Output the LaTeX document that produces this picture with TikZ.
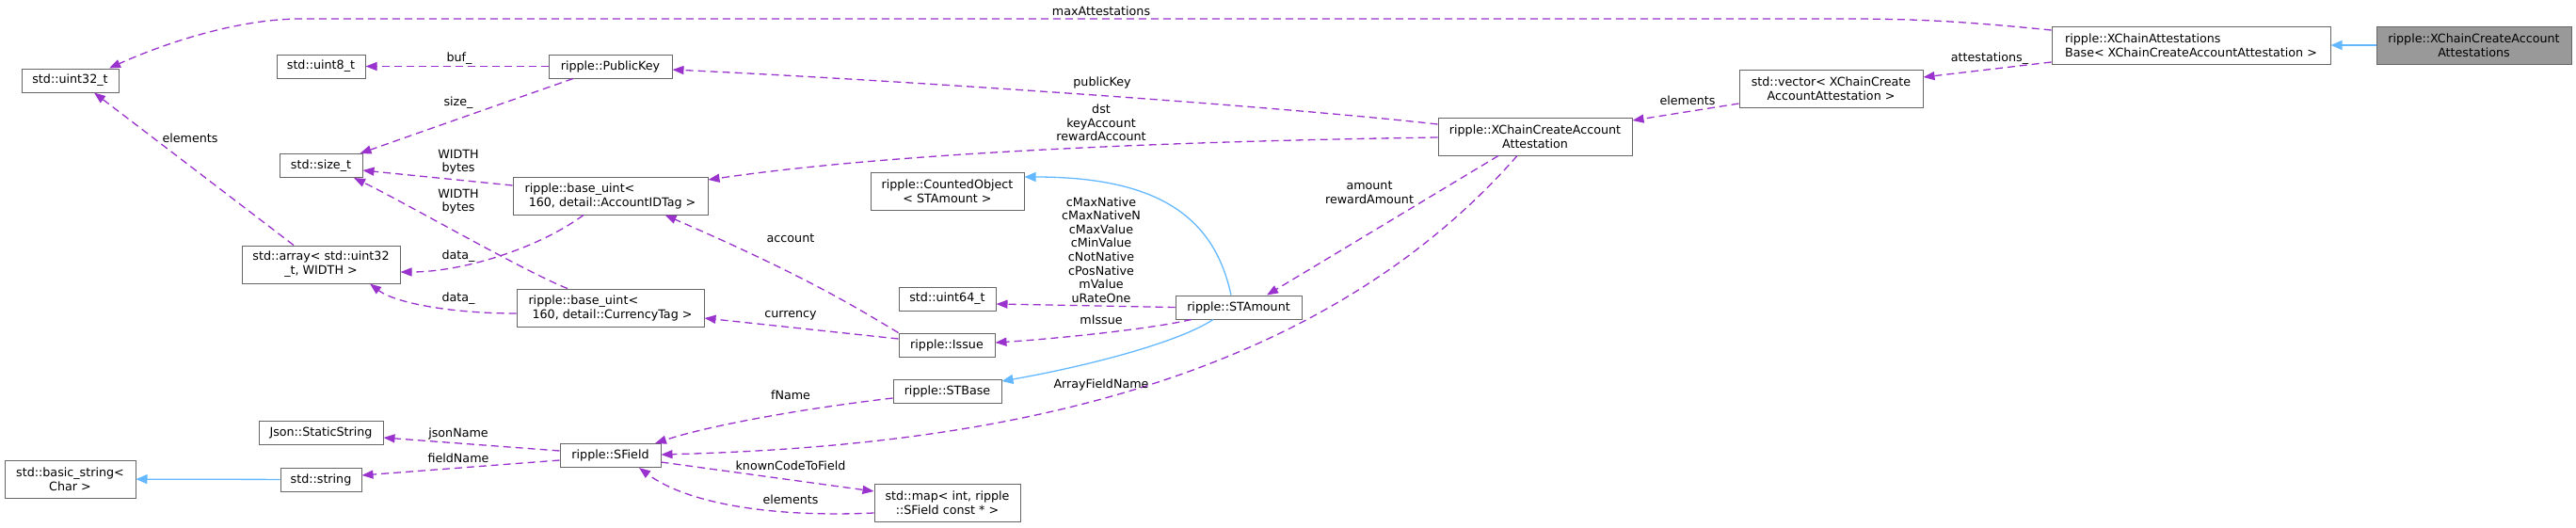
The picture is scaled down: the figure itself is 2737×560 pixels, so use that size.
\documentclass[tikz,border=0pt]{standalone}
\usepackage{fontspec}
\setmainfont{DejaVu Sans}
\usetikzlibrary{arrows.meta}
\definecolor{edgeuse}{HTML}{9A32CD}
\definecolor{edgeinh}{HTML}{63B8FF}
\definecolor{boxline}{HTML}{666666}
\definecolor{boxsel}{HTML}{999999}
\tikzset{
  cls/.style={draw=boxline, fill=white, line width=1pt, inner sep=2pt, minimum width=#1, minimum height=25pt, font=\fontsize{12.7}{15}\selectfont, align=center},
  cls2/.style={cls=#1, minimum height=40pt},
  clsl/.style={cls2=#1, align=left},
  clssel/.style={cls2=#1, fill=boxsel},
  member/.style={draw=edgeuse, line width=1.3pt, dash pattern=on 8pt off 5pt, -{Triangle[length=12pt,width=9pt]}},
  inherits/.style={draw=edgeinh, line width=1.3pt, -{Triangle[length=12pt,width=10pt]}},
  lbl/.style={inner sep=0pt, font=\fontsize{12.7}{14.6}\selectfont, align=center},
}

\begin{document}
\begin{tikzpicture}[x=1pt, y=-1pt]
  \useasboundingbox (0,0) rectangle (2737,560);

  % classes, by column
  \node[cls=103pt] (uint32) at (74.5,85.5) {std::uint32\_t};
  \node[cls2=139pt] (basicstr) at (74.5,509) {std::basic\_string<\\Char >};

  \node[cls=94pt] (uint8) at (341,70.5) {std::uint8\_t};
  \node[cls=88pt] (sizet) at (341,176) {std::size\_t};
  \node[cls2=168pt] (stdarray) at (341,281) {std::array< std::uint32\\\_t, WIDTH >};
  \node[cls=132pt] (jsonstr) at (341,460) {Json::StaticString};
  \node[cls=86pt] (stdstr) at (341,509.5) {std::string};

  \node[cls=131pt] (pubkey) at (648.5,70.5) {ripple::PublicKey};
  \node[clsl=207pt] (acctid) at (648.5,208) {ripple::base\_uint<\\\ 160, detail::AccountIDTag >};
  \node[clsl=199pt] (currency) at (648.5,327) {ripple::base\_uint<\\\ 160, detail::CurrencyTag >};
  \node[cls=107pt] (sfield) at (648.5,484) {ripple::SField};

  \node[cls2=163pt] (counted) at (1006.5,203) {ripple::CountedObject\\< STAmount >};
  \node[cls=103pt] (uint64) at (1006.5,317.5) {std::uint64\_t};
  \node[cls=102pt] (issue) at (1006,366.5) {ripple::Issue};
  \node[cls=115pt] (stbase) at (1006.5,416) {ripple::STBase};
  \node[cls2=155pt] (fieldmap) at (1006.5,534.5) {std::map< int, ripple\\::SField const * >};

  \node[cls=134pt] (stamount) at (1316,326.5) {ripple::STAmount};
  \node[cls2=206pt] (xcaa) at (1631,145) {ripple::XChainCreateAccount\\Attestation};
  \node[cls2=195pt] (attvec) at (1945.5,94.5) {std::vector< XChainCreate\\AccountAttestation >};
  \node[clsl=296pt] (attbase) at (2328,48) {ripple::XChainAttestations\\Base< XChainCreateAccountAttestation >};
  \node[clssel=207pt] (xcaas) at (2628.5,48) {ripple::XChainCreateAccount\\Attestations};

  % inheritance
  \draw[inherits] (xcaas) -- (attbase);
  \draw[inherits] ([xshift=-8pt]stamount.north) .. controls (1290,230) and (1230,188) .. ([yshift=15pt]counted.east);
  \draw[inherits] ([xshift=-27pt]stamount.south) .. controls (1250,365) and (1150,390) .. ([yshift=11pt]stbase.east);
  \draw[inherits] (stdstr) -- (basicstr);

  % members
  \draw[member] ([yshift=16pt]attbase.west) .. controls (2080,22) and (2030,20) .. (1960,20) -- (320,20) .. controls (250,20) and (170,48) .. ([xshift=41.5pt]uint32.north);
  \draw[member] ([yshift=-18pt]attbase.west) -- ([yshift=12.5pt]attvec.east);
  \draw[member] ([yshift=-15.5pt]attvec.west) -- ([yshift=17pt]xcaa.east);
  \draw[member] ([yshift=13pt]xcaa.west) .. controls (1350,112) and (950,85) .. ([yshift=-3.5pt]pubkey.east);
  \draw[member] ([yshift=-1pt]xcaa.west) .. controls (1250,150) and (950,162) .. ([yshift=17pt]acctid.east);
  \draw[member] ([xshift=-39pt]xcaa.south) -- ([xshift=30pt]stamount.north);
  \draw[member] ([xshift=-19pt]xcaa.south) .. controls (1380,430) and (1000,475) .. ([yshift=1pt]sfield.east);
  \draw[member] (stamount.west) -- ([yshift=-5.5pt]uint64.east);
  \draw[member] ([xshift=-50pt]stamount.south) .. controls (1220,350) and (1120,360) .. ([yshift=2.5pt]issue.east);
  \draw[member] ([yshift=6.5pt]issue.west) -- ([yshift=-11pt]currency.east);
  \draw[member] (issue.north west) .. controls (915,330) and (860,295) .. ([xshift=58pt]acctid.south);
  \draw[member] ([yshift=11pt]acctid.west) -- ([yshift=-5pt]sizet.east);
  \draw[member] ([xshift=-45.5pt]currency.north) .. controls (560,290) and (430,215) .. ([xshift=35pt]sizet.south);
  \draw[member] ([xshift=-28.5pt]acctid.south) .. controls (570,265) and (490,289) .. ([yshift=-8pt]stdarray.east);
  \draw[member] ([yshift=-6pt]currency.west) .. controls (480,333) and (420,322) .. ([xshift=52pt]stdarray.south);
  \draw[member] ([xshift=-29pt]stdarray.north) -- ([xshift=25.5pt]uint32.south);
  \draw[member] (pubkey) -- (uint8);
  \draw[member] ([xshift=-39.5pt]pubkey.south) -- ([xshift=-3pt]sizet.north east);
  \draw[member] ([yshift=-7pt]stbase.west) .. controls (870,432) and (760,450) .. ([xshift=47.5pt]sfield.north);
  \draw[member] ([yshift=5pt]sfield.west) -- ([yshift=-5pt]jsonstr.east);
  \draw[member] ([yshift=-5pt]sfield.west) -- ([yshift=4.5pt]stdstr.east);
  \draw[member] ([yshift=-7pt]sfield.east) -- ([yshift=12.5pt]fieldmap.west);
  \draw[member] ([yshift=-10.5pt]fieldmap.west) .. controls (820,550) and (730,535) .. ([xshift=30.5pt]sfield.south);

  % edge labels
  \node[lbl] (lmaxatt) at (1170,12) {maxAttestations};
  \node[lbl] (latt) at (2114,62) {attestations\_};
  \node[lbl] (lelemv) at (1793,107) {elements};
  \node[lbl] (lpubkey) at (1171,88) {publicKey};
  \node[lbl] (lacct) at (1170,130.5) {dst\\keyAccount\\rewardAccount};
  \node[lbl] (lamount) at (1455,204.5) {amount\\rewardAmount};
  \node[lbl] (lconst) at (1170,265.5) {cMaxNative\\cMaxNativeN\\cMaxValue\\cMinValue\\cNotNative\\cPosNative\\mValue\\uRateOne};
  \node[lbl] (lmissue) at (1170,340) {mIssue};
  \node[lbl] (larray) at (1170,409) {ArrayFieldName};
  \node[lbl] (lbuf) at (488,62) {buf\_};
  \node[lbl] (lsize) at (487,109) {size\_};
  \node[lbl] (lwidtha) at (487,172) {WIDTH\\bytes};
  \node[lbl] (lwidthc) at (487,214) {WIDTH\\bytes};
  \node[lbl] (ldataa) at (487,272) {data\_};
  \node[lbl] (ldatac) at (487,317) {data\_};
  \node[lbl] (lelemu) at (202,147) {elements};
  \node[lbl] (laccount) at (840,253) {account};
  \node[lbl] (lcurrency) at (840,335) {currency};
  \node[lbl] (lfname) at (840,420) {fName};
  \node[lbl] (ljson) at (487,461) {jsonName};
  \node[lbl] (lfieldname) at (487,487) {fieldName};
  \node[lbl] (lknown) at (840,495) {knownCodeToField};
  \node[lbl] (lelemm) at (840,531) {elements};
\end{tikzpicture}
\end{document}
